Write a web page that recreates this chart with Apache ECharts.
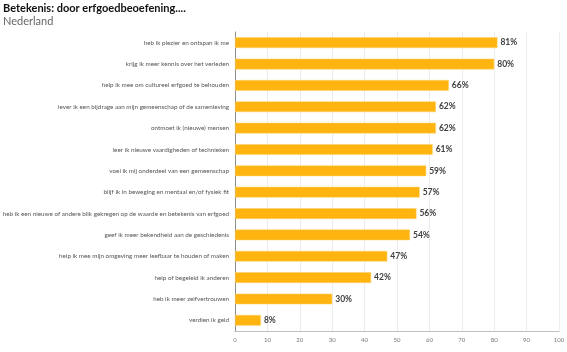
<!DOCTYPE html>
<html>
<head>
<meta charset="utf-8">
<script src="https://cdn.jsdelivr.net/npm/echarts@6/dist/echarts.min.js"></script>
<style>
  html, body { margin: 0; padding: 0; background: #fff; }
  #chart { width: 567px; height: 352px; }
</style>
</head>
<body>
<div id="chart"></div>
<script>
var categories = [
    'heb ik plezier en ontspan ik me',
    'krijg ik meer kennis over het verleden',
    'help ik mee om cultureel erfgoed te behouden',
    'lever ik een bijdrage aan mijn gemeenschap of de samenleving',
    'ontmoet ik (nieuwe) mensen',
    'leer ik nieuwe vaardigheden of technieken',
    'voel ik mij onderdeel van een gemeenschap',
    'blijf ik in beweging en mentaal en/of fysiek fit',
    'heb ik een nieuwe of andere blik gekregen op de waarde en betekenis van erfgoed',
    'geef ik meer bekendheid aan de geschiedenis',
    'help ik mee mijn omgeving meer leefbaar te houden of maken',
    'help of begeleid ik anderen',
    'heb ik meer zelfvertrouwen',
    'verdien ik geld'
];
var values = [81, 80, 66, 62, 62, 61, 59, 57, 56, 54, 47, 42, 30, 8];
var xTicks = [0, 10, 20, 30, 40, 50, 60, 70, 80, 90, 100];

var chart = echarts.init(document.getElementById('chart'));

var option = {
    animation: false,
    title: {
        text: 'Betekenis: door erfgoedbeoefening....',
        subtext: 'Nederland',
        left: 3,
        top: 3,
        padding: 0,
        itemGap: 2,
        textStyle: { fontFamily: 'Lato', fontWeight: 'bold', fontSize: 11, color: '#111' },
        subtextStyle: { fontFamily: 'Lato', fontSize: 11, color: '#666' }
    },
    grid: { left: 235, right: 8, top: 32, bottom: 21, outerBoundsMode: 'none' },
    xAxis: {
        type: 'value',
        min: xTicks[0],
        max: xTicks[xTicks.length - 1],
        interval: 10,
        axisLine: { show: true, lineStyle: { color: '#bfbfbf', width: 1 } },
        axisTick: { show: false },
        axisLabel: { fontFamily: 'Lato', fontSize: 6, color: '#777', margin: 6 },
        splitLine: { lineStyle: { color: '#ececec', width: 1 } }
    },
    yAxis: {
        type: 'category',
        inverse: true,
        data: categories,
        axisLine: { show: true, lineStyle: { color: '#8c8c8c', width: 1 } },
        axisTick: { show: false },
        axisLabel: { fontFamily: 'Lato', fontSize: 6.3, color: '#555', margin: 6 }
    },
    series: [{
        type: 'bar',
        data: values,
        barWidth: '50%',
        itemStyle: { color: '#FFB410', borderColor: '#FFD36B', borderWidth: 0.5 },
        label: {
            show: true,
            position: 'right',
            distance: 3,
            formatter: '{c}%',
            fontFamily: 'Lato',
            fontWeight: 'bold',
            fontSize: 8.5,
            color: '#404040'
        }
    }]
};

chart.setOption(option);
</script>
</body>
</html>
